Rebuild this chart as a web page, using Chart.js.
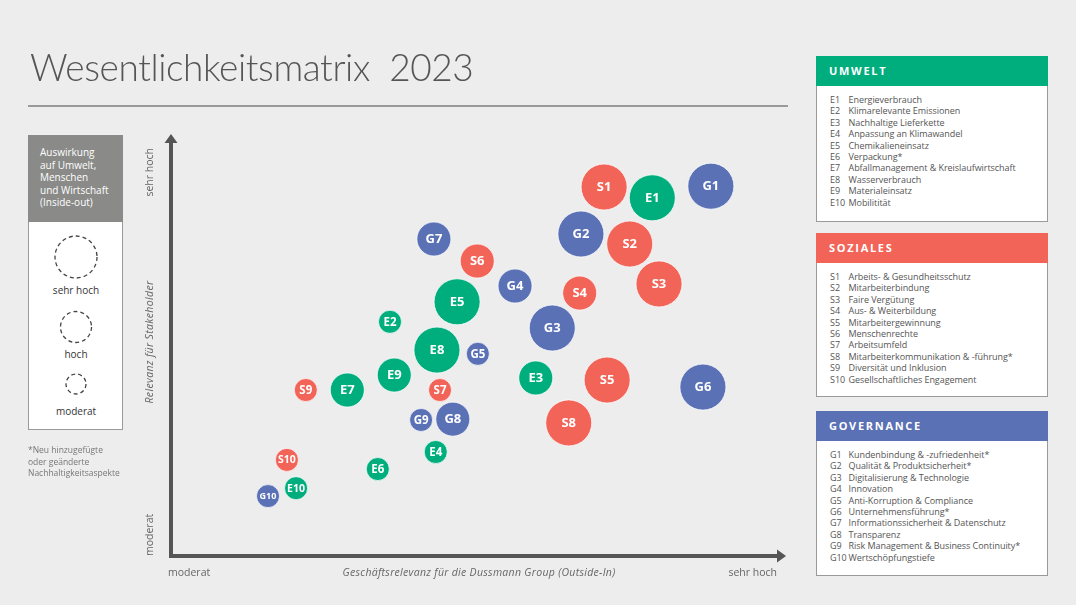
<!DOCTYPE html>
<html lang="de">
<head>
<meta charset="utf-8">
<title>Wesentlichkeitsmatrix 2023</title>
<script src="https://cdn.jsdelivr.net/npm/chart.js@4.4.1/dist/chart.umd.min.js"></script>
<style>
  html, body { margin: 0; padding: 0; }
  body { width: 1076px; height: 605px; background: #ededed; position: relative; overflow: hidden;
         font-family: "Open Sans", "Noto Sans", sans-serif; color: #555; }
  #matrix { position: absolute; left: 0; top: 0; }
  .title { position: absolute; left: 30px; top: 48px; font-family: Lato, "Open Sans", sans-serif; font-size: 37px;
           line-height: 37px; font-weight: 300; color: #555; white-space: pre; letter-spacing: -0.4px; }
  .rule { position: absolute; left: 28px; top: 105px; width: 760px; height: 2px; background: #9a9a9a; }
  .impact { position: absolute; left: 28px; top: 135px; width: 95px; height: 295px; background: #fff;
            border: 1px solid #9a9a9a; box-sizing: border-box; }
  .impact .hd { background: #8a8a88; height: 87px; color: #fff; font-size: 10px; line-height: 12.6px;
                padding: 11px 0 0 12px; box-sizing: border-box; margin: -1px -1px 0 -1px; }
  .impact svg { display: block; }
  .note { position: absolute; left: 28px; top: 444px; font-size: 8.5px; line-height: 11.6px; color: #777; }
  .panel { position: absolute; left: 816px; width: 232px; background: #fff; border: 1px solid #9a9a9a;
           box-sizing: border-box; }
  .panel .hd { height: 30px; line-height: 30px; margin: -1px -1px 0 -1px; padding-left: 13px; color: #fff;
               font-weight: 700; font-size: 11px; letter-spacing: 1.7px; }
  .panel ul { list-style: none; margin: 0; padding: 8px 0 0 13px; }
  .panel li { font-size: 9px; line-height: 11.4px; height: 11.4px; white-space: nowrap; color: #555;
              letter-spacing: -0.05px; }
  .panel li span { display: inline-block; width: 18.5px; }
</style>
</head>
<body>
<canvas id="matrix" width="1076" height="605"></canvas>

<div class="title">Wesentlichkeitsmatrix  2023</div>
<div class="rule"></div>

<div class="impact">
  <div class="hd">Auswirkung<br>auf Umwelt,<br>Menschen<br>und Wirtschaft<br>(Inside-out)</div>
  <svg width="93" height="207" viewBox="0 0 93 207">
    <g fill="none" stroke="#444" stroke-width="1.3" stroke-dasharray="4 3">
      <circle cx="47" cy="35" r="21"/>
      <circle cx="47" cy="105" r="15.5"/>
      <circle cx="47" cy="162" r="10"/>
    </g>
    <g font-family="Open Sans, Noto Sans, sans-serif" font-size="10" fill="#333" text-anchor="middle">
      <text x="47" y="72">sehr hoch</text>
      <text x="47" y="136">hoch</text>
      <text x="47" y="193">moderat</text>
    </g>
  </svg>
</div>
<div class="note">*Neu hinzugefügte<br>oder geänderte<br>Nachhaltigkeitsaspekte</div>

<div class="panel" id="pE" style="top:56px;height:166px"><div class="hd" style="background:#00ae7d">UMWELT</div><ul></ul></div>
<div class="panel" id="pS" style="top:233px;height:164px"><div class="hd" style="background:#f26358">SOZIALES</div><ul></ul></div>
<div class="panel" id="pG" style="top:411px;height:165px"><div class="hd" style="background:#5a71b6">GOVERNANCE</div><ul></ul></div>

<script>
// Umwelt
const eCodes = ['E1', 'E2', 'E3', 'E4', 'E5', 'E6', 'E7', 'E8', 'E9', 'E10'];
const eNames = ['Energieverbrauch', 'Klimarelevante Emissionen', 'Nachhaltige Lieferkette', 'Anpassung an Klimawandel',
  'Chemikalieneinsatz', 'Verpackung*', 'Abfallmanagement & Kreislaufwirtschaft', 'Wasserverbrauch',
  'Materialeinsatz', 'Mobilitität'];
const eBusiness = [78.9, 35.9, 59.8, 43.4, 46.9, 33.9, 28.9, 43.6, 36.6, 20.5];
const eStake    = [86.1, 56.3, 42.8, 25.0, 61.1, 20.9, 39.9, 49.5, 43.5, 16.3];
const eImpact   = [3, 1, 2, 1, 3, 1, 2, 3, 2, 1];

// Soziales
const sCodes = ['S1', 'S2', 'S3', 'S4', 'S5', 'S6', 'S7', 'S8', 'S9', 'S10'];
const sNames = ['Arbeits- & Gesundheitsschutz', 'Mitarbeiterbindung', 'Faire Vergütung', 'Aus- & Weiterbildung',
  'Mitarbeitergewinnung', 'Menschenrechte', 'Arbeitsumfeld', 'Mitarbeiterkommunikation & -führung*',
  'Diversität und Inklusion', 'Gesellschaftliches Engagement'];
const sBusiness = [71.0, 75.2, 80.0, 67.0, 71.5, 50.2, 44.1, 65.2, 22.1, 19.0];
const sStake    = [88.7, 75.0, 65.4, 63.2, 42.3, 70.9, 39.9, 32.0, 39.9, 23.1];
const sImpact   = [3, 3, 3, 2, 3, 2, 1, 3, 1, 1];

// Governance
const gCodes = ['G1', 'G2', 'G3', 'G4', 'G5', 'G6', 'G7', 'G8', 'G9', 'G10'];
const gNames = ['Kundenbindung & -zufriedenheit*', 'Qualität & Produktsicherheit*', 'Digitalisierung & Technologie',
  'Innovation', 'Anti-Korruption & Compliance', 'Unternehmensführung*', 'Informationssicherheit & Datenschutz',
  'Transparenz', 'Risk Management & Business Continuity*', 'Wertschöpfungstiefe'];
const gBusiness = [88.5, 67.2, 62.5, 56.4, 50.3, 87.2, 43.1, 46.2, 41.0, 15.9];
const gStake    = [88.9, 77.4, 54.8, 64.9, 48.6, 40.6, 76.2, 32.9, 32.7, 14.4];
const gImpact   = [3, 3, 3, 2, 1, 3, 2, 2, 1, 1];

const xTicks = ['moderat', 'sehr hoch'];
const yTicks = ['moderat', 'sehr hoch'];
const xTitle = 'Geschäftsrelevanz für die Dussmann Group (Outside-In)';
const yTitle = 'Relevanz für Stakeholder';

const impactRadius = { 1: 11.5, 2: 17, 3: 23 };

function fillList(id, codes, names) {
    const ul = document.querySelector('#' + id + ' ul');
    codes.forEach((c, i) => {
        const li = document.createElement('li');
        li.innerHTML = '<span>' + c + '</span>' + names[i].replace(/&/g, '&amp;');
        ul.appendChild(li);
    });
}
fillList('pE', eCodes, eNames);
fillList('pS', sCodes, sNames);
fillList('pG', gCodes, gNames);

function points(codes, xs, ys, imp) {
    return codes.map((c, i) => ({ x: xs[i], y: ys[i], r: impactRadius[imp[i]], code: c }));
}

const FONT = '"Open Sans", "Noto Sans", sans-serif';

const axesPlugin = {
    id: 'axes',
    beforeDatasetsDraw(chart) {
        const { ctx, chartArea: a } = chart;
        ctx.save();
        ctx.strokeStyle = '#555';
        ctx.fillStyle = '#555';
        ctx.lineWidth = 4;
        ctx.beginPath();
        ctx.moveTo(a.left, a.top + 2);
        ctx.lineTo(a.left, a.bottom);
        ctx.lineTo(a.right - 2, a.bottom);
        ctx.stroke();
        // arrow heads
        ctx.beginPath();
        ctx.moveTo(a.left, a.top - 6);
        ctx.lineTo(a.left - 6.5, a.top + 3);
        ctx.lineTo(a.left + 6.5, a.top + 3);
        ctx.fill();
        ctx.beginPath();
        ctx.moveTo(a.right + 5, a.bottom);
        ctx.lineTo(a.right - 4, a.bottom - 6.5);
        ctx.lineTo(a.right - 4, a.bottom + 6.5);
        ctx.fill();
        ctx.restore();
    },
    afterDraw(chart) {
        const { ctx, chartArea: a } = chart;
        ctx.save();
        ctx.fillStyle = '#666';
        ctx.textBaseline = 'middle';
        // x axis
        ctx.font = '10.5px ' + FONT;
        ctx.textAlign = 'left';
        ctx.fillText(xTicks[0], a.left - 3, a.bottom + 17);
        ctx.textAlign = 'right';
        ctx.fillText(xTicks[1], a.right - 4, a.bottom + 17);
        ctx.textAlign = 'center';
        ctx.font = 'italic 10.5px ' + FONT;
        ctx.letterSpacing = '0.3px';
        ctx.fillText(xTitle, (a.left + a.right) / 2 + 3, a.bottom + 17);
        // y axis
        ctx.translate(a.left - 21, 0);
        ctx.rotate(-Math.PI / 2);
        ctx.letterSpacing = '0px';
        ctx.font = '10.5px ' + FONT;
        ctx.textAlign = 'left';
        ctx.fillText(yTicks[0], -a.bottom, 0);
        ctx.textAlign = 'right';
        ctx.fillText(yTicks[1], -a.top - 8, 0);
        ctx.textAlign = 'center';
        ctx.font = 'italic 10.5px ' + FONT;
        ctx.letterSpacing = '0.35px';
        ctx.fillText(yTitle, -(a.top + a.bottom) / 2 + 6, 0);
        ctx.restore();
    }
};

const labelPlugin = {
    id: 'bubbleLabels',
    afterDatasetsDraw(chart) {
        const ctx = chart.ctx;
        ctx.save();
        ctx.fillStyle = '#fff';
        ctx.textAlign = 'center';
        ctx.textBaseline = 'middle';
        chart.data.datasets.forEach((ds, di) => {
            chart.getDatasetMeta(di).data.forEach((el, i) => {
                const p = ds.data[i];
                let size = p.r > 12 ? 13 : 11.5;
                if (p.code.length > 2) size = p.code[0] === 'G' ? 9 : 10.5;
                ctx.font = 'bold ' + size + 'px ' + FONT;
                ctx.fillText(p.code, el.x, el.y + 0.5);
            });
        });
        ctx.restore();
    }
};

new Chart(document.getElementById('matrix'), {
    type: 'bubble',
    data: {
        datasets: [
            { label: 'Umwelt', data: points(eCodes, eBusiness, eStake, eImpact), backgroundColor: '#00ae7d' },
            { label: 'Soziales', data: points(sCodes, sBusiness, sStake, sImpact), backgroundColor: '#f26358' },
            { label: 'Governance', data: points(gCodes, gBusiness, gStake, gImpact), backgroundColor: '#5a71b6' }
        ].map(d => Object.assign(d, { borderColor: 'rgba(255,255,255,0.7)', borderWidth: 1, hoverRadius: 0 }))
    },
    options: {
        responsive: false,
        animation: false,
        layout: { padding: { left: 171, right: 1076 - 781, top: 140, bottom: 605 - 556 } },
        scales: {
            x: { type: 'linear', min: 0, max: 100, display: false },
            y: { type: 'linear', min: 0, max: 100, display: false }
        },
        plugins: { legend: { display: false }, tooltip: { enabled: false } },
        events: []
    },
    plugins: [axesPlugin, labelPlugin]
});
</script>
</body>
</html>
